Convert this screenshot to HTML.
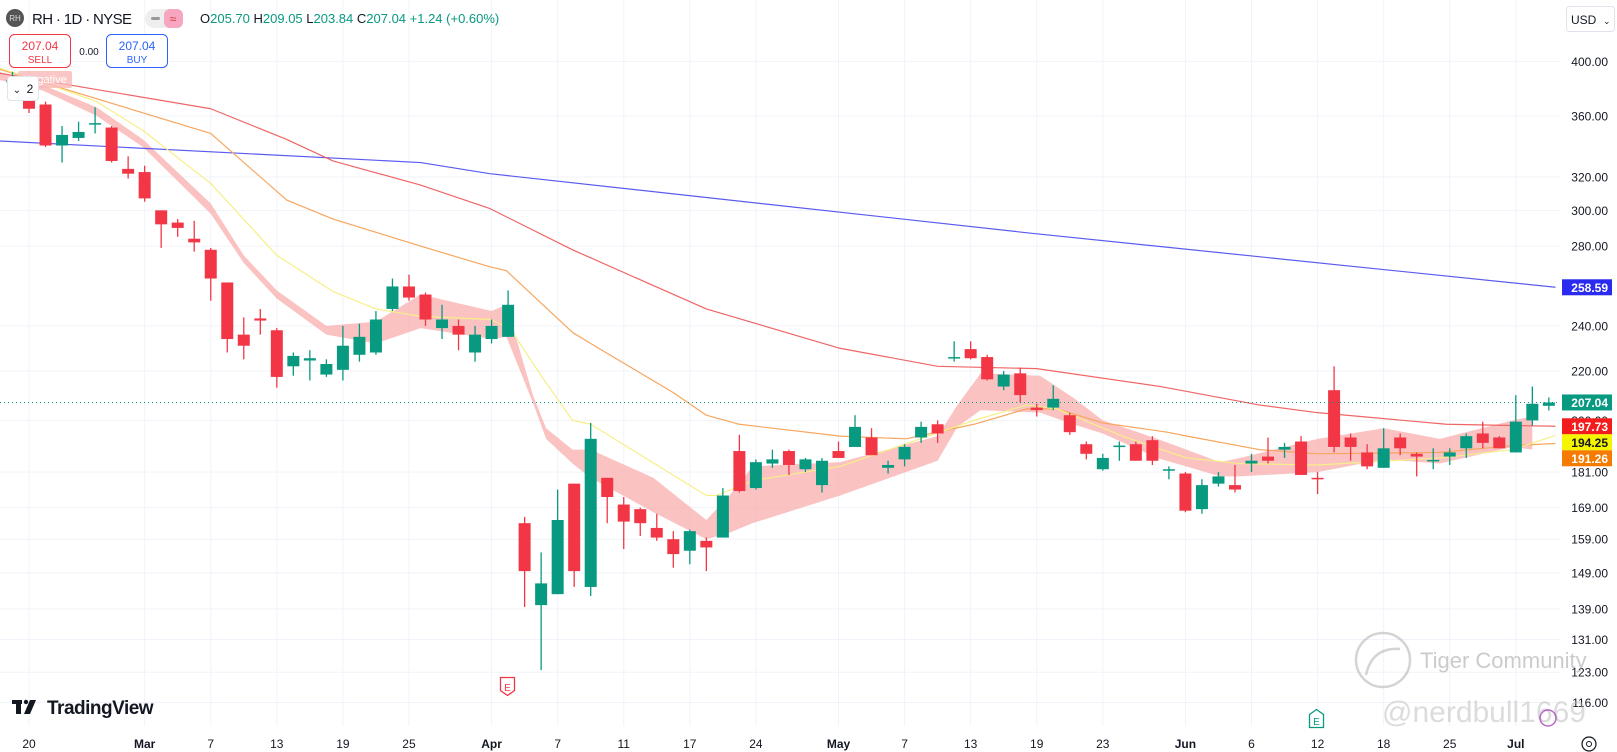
<!DOCTYPE html>
<html><head><meta charset="utf-8"><style>
html,body{margin:0;padding:0;background:#fff;overflow:hidden}
svg{display:block;font-family:"Liberation Sans",sans-serif}
</style></head><body>
<svg id="chart" width="1617" height="752" viewBox="0 0 1617 752">
<g id="grid"></g>
<g id="plot" clip-path="url(#clipPlot)"></g>
<defs><clipPath id="clipPlot"><rect x="0" y="0" width="1560" height="726"/></clipPath></defs>
<g id="yaxis"></g>
<g id="xaxis"></g>
<g id="tags"></g>

<g>
<circle cx="15" cy="18" r="9" fill="#555"/>
<text x="15" y="21" font-size="8" fill="#ddd" text-anchor="middle">RH</text>
<text x="32" y="24" font-size="15" fill="#131722" textLength="100">RH · 1D · NYSE</text>
<rect x="145" y="9" width="38" height="19" rx="9.5" fill="#eee"/>
<rect x="164" y="9" width="19" height="19" rx="6" fill="#f7a6c0"/>
<rect x="151" y="17" width="9" height="3" rx="1.5" fill="#999"/>
<text x="173" y="23" font-size="12" fill="#d33" text-anchor="middle">≈</text>
<text x="200" y="23" font-size="13"><tspan fill="#131722">O</tspan><tspan fill="#089981">205.70 </tspan><tspan fill="#131722">H</tspan><tspan fill="#089981">209.05 </tspan><tspan fill="#131722">L</tspan><tspan fill="#089981">203.84 </tspan><tspan fill="#131722">C</tspan><tspan fill="#089981">207.04 +1.24 (+0.60%)</tspan></text>
</g>
<g>
<rect x="9.5" y="34.5" width="61" height="33" rx="5" fill="#fff" stroke="#f23645"/>
<text x="40" y="50" font-size="12" fill="#f23645" text-anchor="middle">207.04</text>
<text x="40" y="63" font-size="10" fill="#f23645" text-anchor="middle">SELL</text>
</g>
<text x="89" y="55" font-size="10" fill="#131722" text-anchor="middle">0.00</text>
<g>
<rect x="106.5" y="34.5" width="61" height="33" rx="5" fill="#fff" stroke="#2962ff"/>
<text x="137" y="50" font-size="12" fill="#2962ff" text-anchor="middle">207.04</text>
<text x="137" y="63" font-size="10" fill="#2962ff" text-anchor="middle">BUY</text>
</g>
<rect x="18" y="71" width="54" height="17" rx="2" fill="#f9b8b8" opacity="0.8"/>
<text x="45" y="83" font-size="11" fill="#fff" text-anchor="middle">Negative</text>
<g>
<rect x="7.5" y="76.5" width="31" height="24" rx="3" fill="#fff" stroke="#e0e3eb"/>
<text x="17" y="93" font-size="10" fill="#131722" text-anchor="middle">⌄</text>
<text x="30" y="93" font-size="12" fill="#131722" text-anchor="middle">2</text>
</g>
<g>
<rect x="1566.5" y="6.5" width="48" height="25" rx="3" fill="#fff" stroke="#e0e3eb"/>
<text x="1571" y="24" font-size="12" fill="#131722">USD</text>
<text x="1603" y="24" font-size="9" fill="#131722">⌄</text>
</g>
<g>
<rect x="12" y="700" width="10" height="4" fill="#131722"/><rect x="16" y="700" width="5" height="14" fill="#131722"/>
<polygon points="24,714 30,700 36,700 30,714" fill="#131722"/><circle cx="26" cy="702" r="2.2" fill="#131722"/>
<text x="47" y="714" font-size="19" font-weight="bold" fill="#131722" letter-spacing="-0.5">TradingView</text>
</g>
<g>
<path d="M500.5,677.5 h14 v13 l-7,5 l-7,-5 z" fill="#fff" stroke="#f23645" stroke-width="1.3"/>
<text x="507.5" y="691" font-size="10" fill="#f23645" text-anchor="middle">E</text>
</g>
<g>
<path d="M1309.5,714.5 l7,-5 l7,5 v13 h-14 z" fill="#fff" stroke="#089981" stroke-width="1.3"/>
<text x="1316.5" y="725" font-size="10" fill="#089981" text-anchor="middle">E</text>
</g>
<g opacity="0.5">
<circle cx="1383" cy="660" r="27" fill="none" stroke="#aaa" stroke-width="2.5"/>
<path d="M1366,675 q6,-28 34,-26" fill="none" stroke="#aaa" stroke-width="2.5"/>
<text x="1420" y="668" font-size="22" fill="#999">Tiger Community</text>
<text x="1382" y="722" font-size="30" fill="#bbb">@nerdbull1669</text>
</g>
<g>
<circle cx="1589" cy="744" r="7" fill="none" stroke="#131722" stroke-width="1.2"/><circle cx="1589" cy="744" r="2.5" fill="none" stroke="#131722"/>
</g>
<circle cx="1548" cy="718" r="8" fill="none" stroke="#9c27b0" stroke-width="1.5" opacity="0.7"/>
</svg>
<script>
const yTicks=[400,360,320,300,280,240,220,200,181,169,159,149,139,131,123,116];
const xTickIdx=[1,8,12,16,20,24,29,33,37,41,45,50,54,58,62,66,71,75,79,83,87,91];
const xTickLabels=["20","Mar","7","13","19","25","Apr","7","11","17","24","May","7","13","19","23","Jun","6","12","18","25","Jul"];
const opens=[384,373,368,340,345,354,352,325,323,300,293,284,278,261,236,243.5,238,222,224.5,218.5,220.5,227,228,248,259,255,239,240,228,234,235,164,140,143,177,145,179,170,168.5,162.5,159,155.5,158.5,159.5,188.5,175.5,184,188.5,182,176.5,188.5,190,193.5,182.5,185.5,193.5,198.5,225.5,229.5,226,213.5,219,205,205,202,191,182,190,191,192.5,181.5,180.5,168.5,177,176.5,184,186.5,189,192,179,212,193.5,188,182.5,193.5,187.5,185,186.5,189.5,195,193.5,188,200,205.7];
const highs=[392,380,370,353,356,366,353,333,327,300,295,294,279,261,244,248,239,228,229,225,240,241,247,263,265,256,250,243,240,243,257,166,155,175,177,199,179,172.5,169,167,161.5,162,159.5,175.5,194.5,185.5,189,189,186,186,192,202,197,185,191,199.5,200,233,233,227,220,221.5,206.5,214,203,192,187.5,192,192,194,183,181,178.5,181,183.5,187.5,193.5,191.5,194,181,222,195,191,197,195,188,189.5,189.5,195,199.5,194,210,213.5,209.05];
const lows=[380,362,339,329,343,348,329,319,305,279,285,277,252,228,225,236,213,218,216,217.5,216,224,227,247,252,240,234,229,224,232,235,139.5,123.5,143,145,142.5,164,156,160,158.5,150.5,151.5,149.5,159.5,174,175,182.5,180,181,174,186,190,187,180.5,183,191.5,191.5,224,225,216,212,207,201.5,204,194.5,185.5,181.5,185,185,183.5,178.5,167.5,167,176,174,181,184,186,180,173.5,188,185,182,182.5,187,179.5,182,183.5,186,189.5,189.5,188,198,203.84];
const closes=[386,365,340,347,349,355,330,322,307,292,290,282,263,234,231,242.5,217.5,226.5,225.5,223,231,235,243,259,253.5,243,243,236,236,240,250,149.5,146,165,149.5,193,172.5,164.5,164,159.5,154.5,161.5,156.5,173,174.5,184.5,185.5,183.5,185.5,185,186,197.5,187,183.5,190,197.5,195,226,225.5,216.5,218.5,210,204,208.5,195.5,187.5,186,190.5,185,185,182,168,176.5,179.5,175,185,185,190,180,178.5,190,190,183,189.5,189.5,186.5,185.3,188,194,191.5,189.5,199.5,206.5,207.04];
const blueIdx=[-0.8,24.7,28.9,61.7,93.4];
const blueVal=[343,329,322,287,258.59];
const redIdx=[-0.8,12,16.6,19.4,24.7,28.9,33.9,42,50,56,62,69.5,75.5,79,86.8,93.4];
const redVal=[391,365,344,330,315,301,278,248,230,222,221,213.5,206,203,198.5,197.73];
const orangeIdx=[-0.8,12,16.6,19.4,24.7,28.9,29.9,33.9,35,40,42,44,50.1,54.1,58.2,61.4,63.2,66,69.9,71.1,75.5,79,86.4,90.8,93.4];
const orangeVal=[394,348,306,295,280,269,267,237,232,211,202,198.5,194,193,198.5,204.5,204.5,199,195.5,194,189,187.5,188,190.5,191.26];
const yellowIdx=[-0.8,1.85,5.1,7.9,12,16,19.4,22,24.7,28.9,30.1,32.1,33.9,35,42,42.6,44.8,50.1,58.2,61.4,63.2,67.2,69.3,71.1,74.3,79,86.4,90.8,93.4];
const yellowVal=[395,384,370,350,316,275,256.5,248,244.5,243,239,217,200,198.5,173,173,178,183,200,206,204.5,194,189.5,186,184,183.5,186,189,194.25];
const bandIdx=[-0.8,1.85,5.1,7.9,12,14,16,19,22,24.7,29,29.9,31.5,32.3,33.9,35,38.8,42,43.4,44.8,50.1,56,57.2,58.6,62.2,64.2,66,69.3,73.1,74.3,79,83,86.4,90.8,92];
const bandTop=[392,382,366,344,304,275,257,240,242,255,247,250,210,197,189,189,179,165,173,183,184.5,194,206,219,218,209,200,193,184.5,186,193,197,193,200,201.5];
const bandBot=[386,378,360,339,298,271,253,236,232,239,234,235,207,193,184,179,167.5,159,161,164,173,185,197.5,204,203,198.5,195,186,179.5,179.5,181,185.5,184,190,189];
const tagVals=[258.59,207.04,197.73,194.25,191.26];
const tagNames=["ma-blue-tag","last-price-tag","ma-red-tag","ma-yellow-tag","ma-orange-tag"];

const NS="http://www.w3.org/2000/svg";
const X=i=>12.5+i*16.52;
const Y=p=>371-518*Math.log(p/220);
function mk(tag,attrs,parent){const e=document.createElementNS(NS,tag);for(const k in attrs)e.setAttribute(k,attrs[k]);parent.appendChild(e);return e;}
const grid=document.getElementById('grid'),plot=document.getElementById('plot'),yaxis=document.getElementById('yaxis'),xaxis=document.getElementById('xaxis'),tags=document.getElementById('tags');

yTicks.forEach(v=>{
  const g=mk('line',{x1:0,x2:1560,y1:Y(v),y2:Y(v),stroke:'#f0f3fa'},grid);
  
  
  const t=mk('text',{x:1608,y:Y(v)+4.5,'font-size':12,fill:'#131722','text-anchor':'end'},yaxis);
  t.textContent=v.toFixed(2);
  
  
});
xTickIdx.forEach((i,k)=>{
  const g=mk('line',{x1:X(i),x2:X(i),y1:0,y2:726,stroke:'#f0f3fa'},grid);
  
  
  const lab=xTickLabels[k];
  const bold=isNaN(+lab);
  const t=mk('text',{x:X(i),y:748,'font-size':12,fill:'#131722','text-anchor':'middle','font-weight':bold?'bold':'normal'},xaxis);
  t.textContent=lab;
  
  
});

let d='';
bandIdx.forEach((i,k)=>{d+=(k?'L':'M')+X(i)+','+Y(bandTop[k]);});
for(let k=bandIdx.length-1;k>=0;k--)d+='L'+X(bandIdx[k])+','+Y(bandBot[k]);
const band=mk('path',{d:d+'Z',fill:'#f9a8a8',opacity:0.7},plot);



function line(idx,val,color,name){
  const pts=idx.map((i,k)=>X(i)+','+Y(val[k])).join(' ');
  const p=mk('polyline',{points:pts,fill:'none',stroke:color,'stroke-width':1.2,'stroke-linejoin':'round'},plot);
  
  
}
line(blueIdx,blueVal,'#5b5bf0','ma-blue-line');
line(redIdx,redVal,'#f06565','ma-red-line');
line(orangeIdx,orangeVal,'#f7a65e','ma-orange-line');
line(yellowIdx,yellowVal,'#f7ef88','ma-yellow-line');

opens.forEach((o,i)=>{
  const c=closes[i],up=c>=o,col=up?'#089981':'#f23645',x=X(i);
  const g=mk('g',{},plot);
  
  
  mk('line',{x1:x,x2:x,y1:Y(highs[i]),y2:Y(lows[i]),stroke:col,'stroke-width':1.3},g);
  const top=Y(Math.max(o,c)),bot=Y(Math.min(o,c));
  mk('rect',{x:x-6,y:top,width:12,height:Math.max(bot-top,1.5),fill:col},g);
});

const ly=Y(closes[closes.length-1]);
const dl=mk('line',{x1:0,x2:1560,y1:ly,y2:ly,stroke:'#089981','stroke-dasharray':'1 3'},plot);



const tagCols=['#2a2af0','#089981','#f21c1c','#f5f500','#f57c00'];
const tagText=['#fff','#fff','#fff','#131722','#fff'];
let prev=-100;
tagVals.forEach((v,k)=>{
  let cy=Y(v);
  if(cy<prev+16)cy=prev+16;
  prev=cy;
  const g=mk('g',{},tags);
  
  
  mk('rect',{x:1562,y:cy-8,width:50,height:16,fill:tagCols[k]},g);
  const t=mk('text',{x:1608,y:cy+4.5,'font-size':12,'font-weight':'bold',fill:tagText[k],'text-anchor':'end'},g);
  t.textContent=v.toFixed(2);
});
</script>
</body></html>
